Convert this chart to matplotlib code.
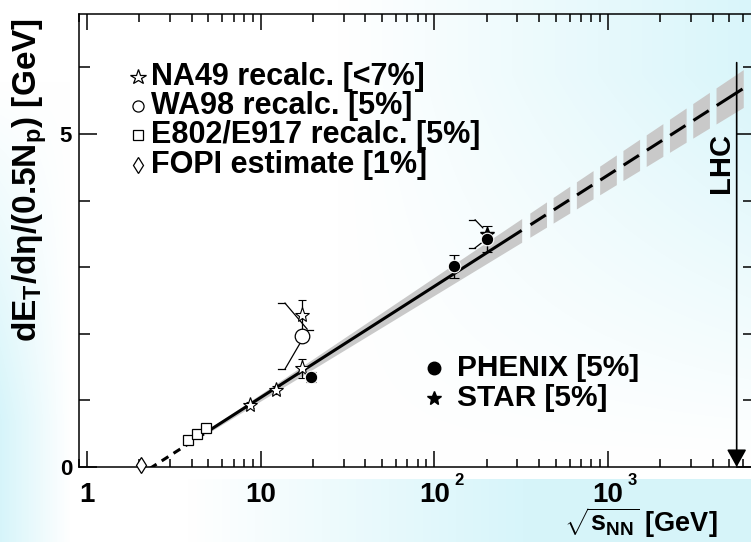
import numpy as np
import matplotlib
matplotlib.use('Agg')
import matplotlib.pyplot as plt
from matplotlib.ticker import LogLocator, NullFormatter, FixedLocator, FixedFormatter
from matplotlib.transforms import offset_copy

plt.rcParams['font.family'] = ['Liberation Sans', 'DejaVu Sans']
plt.rcParams['font.weight'] = 'bold'
plt.rcParams['mathtext.fontset'] = 'custom'
plt.rcParams['mathtext.rm'] = 'Liberation Sans:bold'
plt.rcParams['mathtext.bf'] = 'Liberation Sans:bold'
plt.rcParams['mathtext.it'] = 'Liberation Sans:bold'
plt.rcParams['mathtext.sf'] = 'Liberation Sans:bold'

# ---------------- data ----------------
na49_x = [8.7, 12.3, 17.3, 17.3]
na49_y = [0.93, 1.16, 1.48, 2.28]
na49_err = [0.05, 0.06, 0.14, 0.23]

wa98_x = [17.3]
wa98_y = [1.97]
wa98_err_lo = [0.50]
wa98_err_hi = [0.49]

e802_x = [3.83, 4.32, 4.84]
e802_y = [0.40, 0.50, 0.58]

fopi_x = [2.05]
fopi_y = [0.03]

phenix_x = [19.6, 130.0, 200.0]
phenix_y = [1.35, 3.01, 3.42]
phenix_err = [0.07, 0.17, 0.20]

star_x = [200.0]
star_y = [3.50]
star_err = [0.21]

fit_slope = 0.725        # GeV per unit ln(sqrt(s))
fit_intercept = -0.626
fit_band = 0.05          # relative width of grey band
fit_range = [2.3, 5.0, 318.0, 6000.0]   # dashed | solid | dashed (extrapolation)

lhc_x = 5500.0
lhc_top = 6.07

xticks = [1, 10, 100, 1000]
xtick_labels = ['1', '10', '10', '10']
xtick_sup = ['', '', '2', '3']
yticks = [0, 5]
yticks_minor = [1, 2, 3, 4, 6]

legend1_labels = ['NA49 recalc. [<7%]', 'WA98 recalc. [5%]',
                  'E802/E917 recalc. [5%]', 'FOPI estimate [1%]']
legend2_labels = ['PHENIX [5%]', 'STAR [5%]']

# ---------------- figure ----------------
W, H = 751, 542
fig = plt.figure(figsize=(W / 100, H / 100), dpi=100)

# decorative light-cyan background
bg = fig.add_axes([0, 0, 1, 1], zorder=-10)
bg.axis('off')
yy, xx = np.mgrid[0:H, 0:W]
fx = xx / W
fy = yy / H
c1 = np.clip(1.7 * (fx - 0.45), 0, 1) * np.clip(1.4 * (0.85 - fy), 0, 1)
c2 = np.clip(1 - xx / 70.0, 0, 1) * np.clip(1.6 * (fy - 0.15), 0, 1)
c3 = (yy > 478) * np.clip(2.2 * (fx - 0.25), 0, 1)
c = np.clip(np.maximum(np.maximum(c1, c2), c3), 0, 1)
cyan = np.array([0.84, 0.96, 0.98])
img = (1 - c[..., None]) * 1.0 + c[..., None] * cyan
bg.imshow(img, extent=[0, 1, 0, 1], aspect='auto', origin='upper')

ax = fig.add_axes([79 / W, 1 - 467 / H, (754 - 79) / W, (467 - 14) / H])
ax.patch.set_alpha(0)
ax.set_xscale('log')
ax.set_xlim(0.899, 6920)
ax.set_ylim(0, 6.8)

for s in ax.spines.values():
    s.set_linewidth(1.1)

# ---- fit line and band ----
def fit(x):
    return fit_slope * np.log(x) + fit_intercept

x1 = np.geomspace(fit_range[0], fit_range[1], 50)
ax.plot(x1, fit(x1), color='black', lw=2.2, dashes=(2.6, 2.0), zorder=2)

x2 = np.geomspace(fit_range[1], fit_range[2], 100)
ax.fill_between(x2, fit(x2) * (1 - fit_band), fit(x2) * (1 + fit_band),
                color='#c9c9c9', lw=0, zorder=1)
ax.plot(x2, fit(x2), color='black', lw=2.2, zorder=2, solid_capstyle='butt')

l0 = np.log10(fit_range[2]) + 0.047
lend = np.log10(fit_range[3])
period, on = 0.134, 0.096
k = 0
while l0 + k * period < lend:
    a = l0 + k * period
    b = a + on
    if a + period + on > lend:
        b = lend
    xs = np.logspace(a, b, 10)
    ax.fill_between(xs, fit(xs) * (1 - fit_band), fit(xs) * (1 + fit_band),
                    color='#c9c9c9', lw=0, zorder=1)
    xb = np.logspace(a + 0.004, b - 0.004, 10)
    ax.plot(xb, fit(xb), color='black', lw=2.2, zorder=2, solid_capstyle='butt')
    k += 1
    if b >= lend:
        break

# ---- data points ----
ax.errorbar(e802_x, e802_y, fmt='s', ms=6.8, mfc='white', mec='black', mew=0.9,
            ecolor='black', zorder=4)
ax.plot(fopi_x, fopi_y, 'd', ms=7.8, mfc='white', mec='black', mew=0.9, zorder=4,
        clip_on=False)
ax.errorbar(na49_x, na49_y, yerr=na49_err, fmt='*', ms=11, mfc='white', mec='black',
            mew=0.8, ecolor='black', elinewidth=0.9, capsize=3, capthick=0.9, zorder=4)

# WA98 with offset error bracket
cap_wa98 = 13.2
for x, y, lo, hi in zip(wa98_x, wa98_y, wa98_err_lo, wa98_err_hi):
    ax.plot([cap_wa98 / 1.045, cap_wa98 * 1.045], [y + hi, y + hi], color='black', lw=0.9, zorder=3)
    ax.plot([cap_wa98 / 1.045, cap_wa98 * 1.045], [y - lo, y - lo], color='black', lw=0.9, zorder=3)
    ax.plot([cap_wa98 * 1.045, x * 1.07], [y + hi, y + 0.10], color='black', lw=0.9, zorder=3)
    ax.plot([cap_wa98 * 1.045, x * 0.975], [y - lo, y - 0.11], color='black', lw=0.9, zorder=3)
    ax.plot([x * 1.04, x * 1.16], [y + 0.09, y + 0.09], color='black', lw=0.9, zorder=3)
ax.plot(wa98_x, wa98_y, 'o', ms=10.5, mfc='white', mec='black', mew=0.9, zorder=4)

# STAR with offset error bracket (hidden behind PHENIX)
cap_star = 165.0
for x, y, e in zip(star_x, star_y, star_err):
    ax.plot([cap_star / 1.04, cap_star * 1.04], [y + e, y + e], color='black', lw=0.9, zorder=3)
    ax.plot([cap_star / 1.04, cap_star * 1.04], [y - e, y - e], color='black', lw=0.9, zorder=3)
    ax.plot([cap_star * 1.04, x * 0.95], [y + e, y + 0.09], color='black', lw=0.9, zorder=3)
    ax.plot([cap_star * 1.04, x * 0.93], [y - e, y - 0.14], color='black', lw=0.9, zorder=3)
ax.plot(star_x, star_y, '*', ms=10, color='black', zorder=5)

ax.errorbar(phenix_x, phenix_y, yerr=phenix_err, fmt='o', ms=9, mfc='black', mec='white',
            mew=0.8, ecolor='black', elinewidth=1.0, capsize=3.5, capthick=1.0, zorder=6)

# ---- LHC arrow ----
ax.annotate('', xy=(lhc_x, 0), xytext=(lhc_x, lhc_top),
            arrowprops=dict(arrowstyle='-|>,head_length=0.9,head_width=0.5',
                            mutation_scale=12, lw=1.2, color='black',
                            shrinkA=0, shrinkB=0), zorder=5)
ax.text(4470, 4.56, 'LHC', rotation=90, ha='center', va='center',
        fontsize=21, fontweight='bold')

# ---- manual legends ----
leg1_y = [5.86, 5.42, 4.98, 4.54]
leg1_mk = [dict(marker='*', ms=11.5), dict(marker='o', ms=8),
           dict(marker='s', ms=6.5), dict(marker='d', ms=8)]
for yv, lab, mk in zip(leg1_y, legend1_labels, leg1_mk):
    ax.plot([1.97], [yv], ls='none', mfc='white', mec='black', mew=0.9, **mk)
    ax.text(2.34, yv, lab, ha='left', va='center', fontsize=22, fontweight='bold')

leg2_y = [1.48, 1.04]
ax.plot([100], [leg2_y[0]], 'o', ms=9, color='black')
ax.plot([100], [leg2_y[1]], '*', ms=10, color='black')
for yv, lab in zip(leg2_y, legend2_labels):
    ax.text(135, yv, lab, ha='left', va='center', fontsize=21.5, fontweight='bold')

# ---- ticks ----
ax.xaxis.set_major_locator(FixedLocator(xticks))
ax.xaxis.set_major_formatter(FixedFormatter(xtick_labels))
ax.xaxis.set_minor_locator(LogLocator(base=10, subs=np.arange(2, 10)))
ax.xaxis.set_minor_formatter(NullFormatter())
ax.yaxis.set_major_locator(FixedLocator(yticks))
ax.yaxis.set_minor_locator(FixedLocator(yticks_minor))
ax.tick_params(which='both', direction='in', top=True, right=True, width=1.1)
ax.xaxis.set_tick_params(which='major', length=11.5, pad=11, labelsize=20)
ax.xaxis.set_tick_params(which='minor', length=6)
ax.yaxis.set_tick_params(which='major', length=13, pad=5, labelsize=16)
ax.yaxis.set_tick_params(which='minor', length=8)
for lab in ax.get_xticklabels() + ax.get_yticklabels():
    lab.set_fontweight('bold')

for t, sup in zip(xticks, xtick_sup):
    if sup:
        tr = offset_copy(ax.get_xaxis_transform(), fig=fig, x=20, y=-6, units='dots')
        ax.text(t, 0, sup, transform=tr, ha='left', va='top', fontsize=12,
                fontweight='bold', clip_on=False)

# ---- axis labels ----
fig.text(0.039, 0.668, r'dE$_{\mathbf{T}}$/dη/(0.5N$_{\mathbf{p}}$) [GeV]', rotation=90,
         ha='center', va='center', fontsize=24, fontweight='bold')
fig.text(0.853, 0.004, r'$\sqrt{\mathbf{s}_{\mathbf{NN}}}$ [GeV]', ha='center',
         va='bottom', fontsize=19.5, fontweight='bold')

fig.savefig('out.png', dpi=100)
